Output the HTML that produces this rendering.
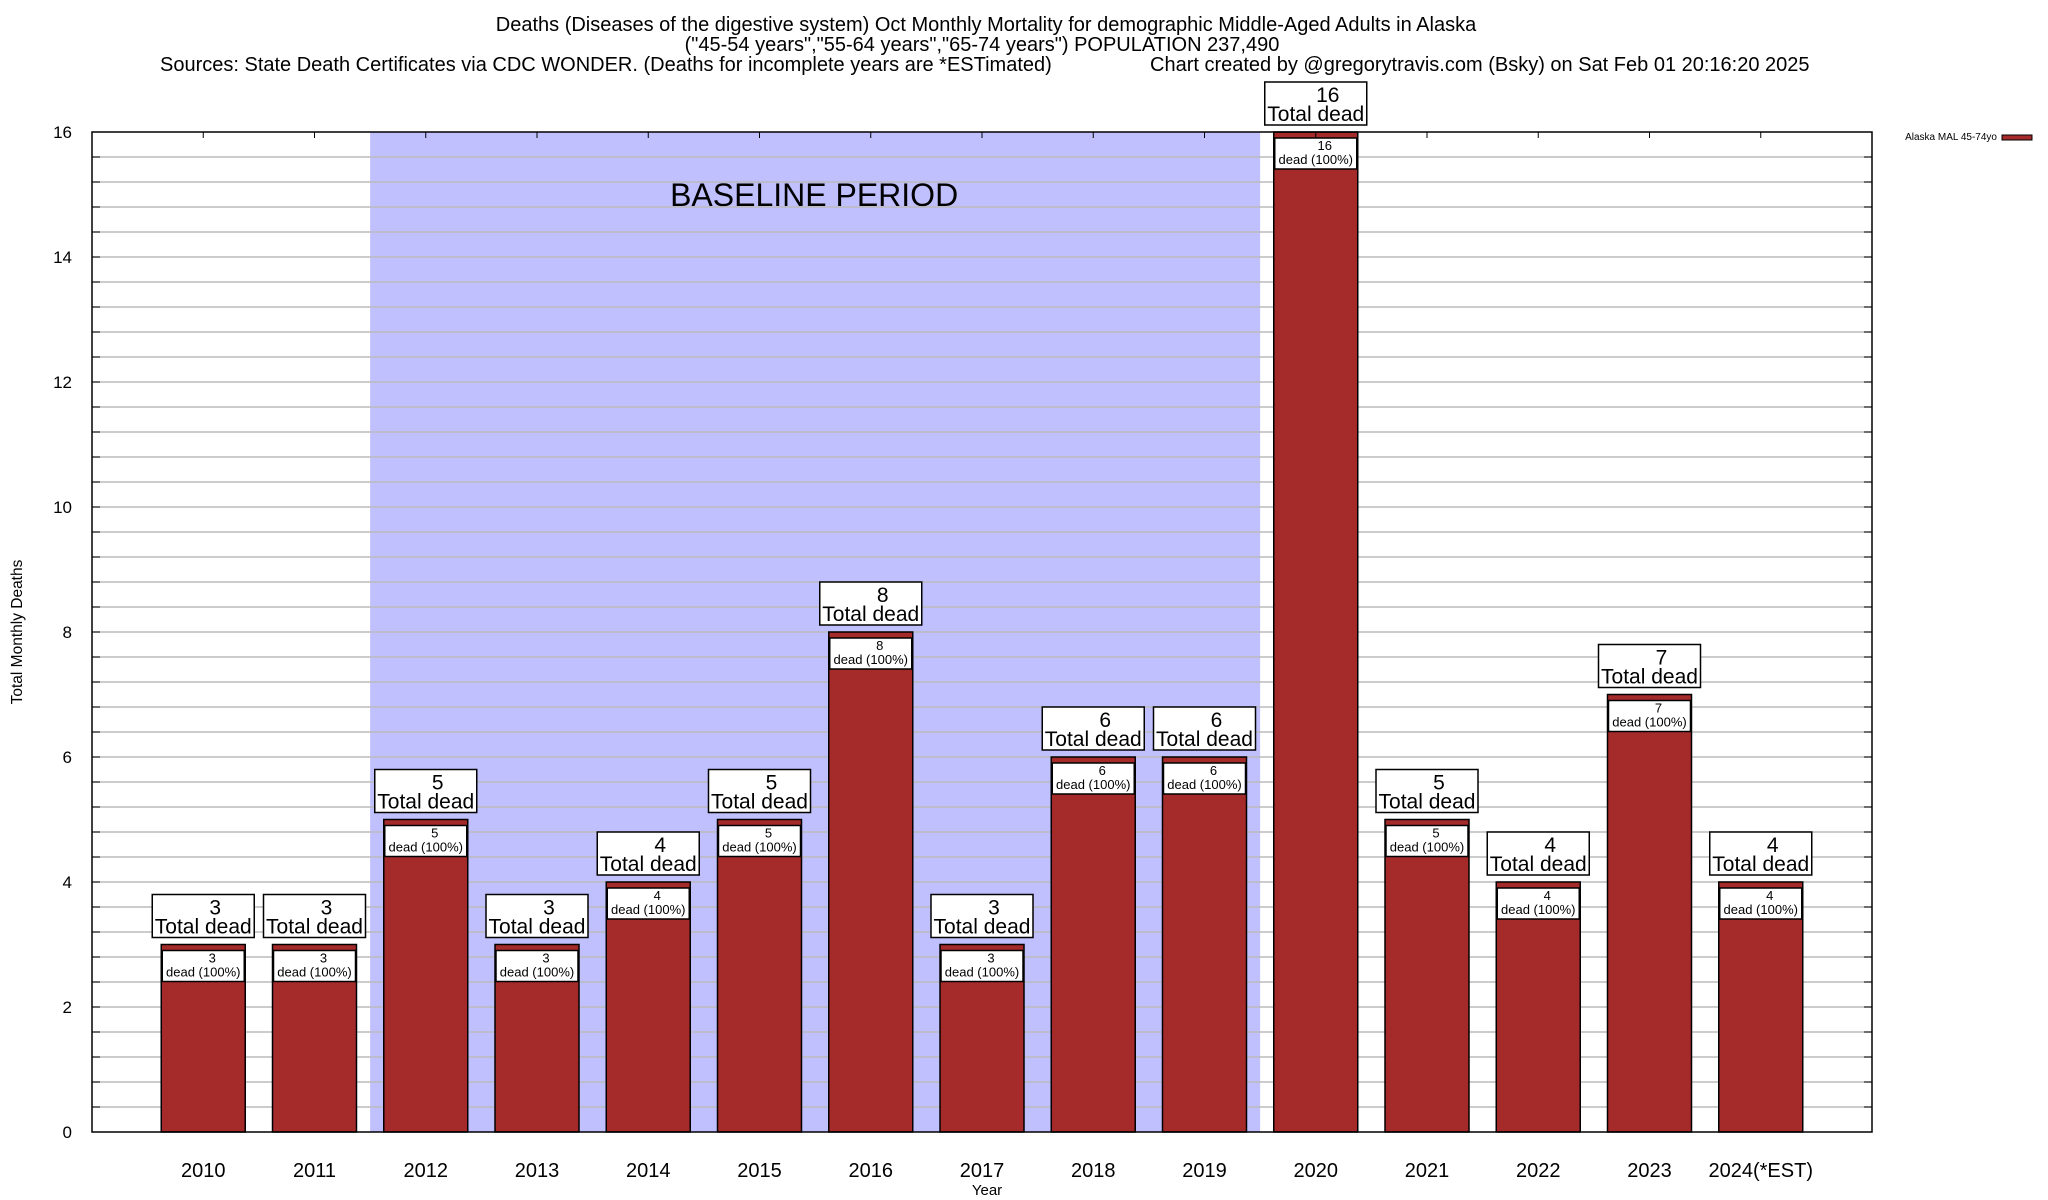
<!DOCTYPE html>
<html><head><meta charset="utf-8"><style>
html,body{margin:0;padding:0;background:#fff;width:2048px;height:1200px;overflow:hidden}
svg{display:block;font-family:"Liberation Sans",Arial,sans-serif}
</style></head><body>
<svg id="chart" width="2048" height="1200" xmlns="http://www.w3.org/2000/svg">
<g>
<text x="986" y="31" font-size="20" text-anchor="middle">Deaths (Diseases of the digestive system) Oct Monthly Mortality for demographic Middle-Aged Adults in Alaska</text>
<text x="982" y="51" font-size="20" text-anchor="middle">("45-54 years","55-64 years","65-74 years") POPULATION 237,490</text>
<text x="160" y="71" font-size="20">Sources: State Death Certificates via CDC WONDER. (Deaths for incomplete years are *ESTimated)</text>
<text x="1150" y="71" font-size="20">Chart created by @gregorytravis.com (Bsky) on Sat Feb 01 20:16:20 2025</text>
</g>
<g id="plot"></g>
<text x="22" y="632" font-size="15.5" text-anchor="middle" transform="rotate(-90 22 632)">Total Monthly Deaths</text>
<text x="987" y="1195" font-size="15" text-anchor="middle">Year</text>
<g>
<text x="1997" y="140" font-size="10" text-anchor="end">Alaska MAL 45-74yo</text>
<rect x="2002" y="135" width="30" height="5" fill="#a52a2a" stroke="#000" stroke-width="1"/>
</g>
</svg>
<script>
const categories = ["2010","2011","2012","2013","2014","2015","2016","2017","2018","2019","2020","2021","2022","2023","2024(*EST)"];
const values = [3,3,5,3,4,5,8,3,6,6,16,5,4,7,4];
const yTicks = [0,2,4,6,8,10,12,14,16];
const baselineRange = [1.5, 9.5];

const L=92,R=1872,T=132,B=1132,YMAX=16;
const NS="http://www.w3.org/2000/svg";
const g=document.getElementById('plot');
const xs=i=>L+(i+1)*(R-L)/16;
const ys=v=>B-v*(B-T)/YMAX;
const unit=(R-L)/16;
function mk(tag,attrs,parent){const e=document.createElementNS(NS,tag);for(const k in attrs)e.setAttribute(k,attrs[k]);(parent||g).appendChild(e);return e;}

let sh=mk('rect',{x:xs(baselineRange[0]),y:T,width:xs(baselineRange[1])-xs(baselineRange[0]),height:B-T,fill:'#c0c0ff'});


let bt=mk('text',{x:(xs(baselineRange[0])+xs(baselineRange[1]))/2-1,y:206,'font-size':32,'text-anchor':'middle'});
bt.textContent='BASELINE PERIOD';



for(let k=1;k<40;k++){
  const v=k*0.4;const y=ys(v);
  const ln=mk('line',{x1:L,x2:R,y1:y,y2:y,stroke:'#bbb','stroke-width':1.5});
  
  
  mk('line',{x1:R-8,x2:R,y1:y,y2:y,stroke:'#000','stroke-width':1});
  mk('line',{x1:L,x2:L+8,y1:y,y2:y,stroke:'#000','stroke-width':1});
}
yTicks.forEach(v=>{
  const t=mk('text',{x:L-20,y:ys(v)+6,'font-size':17,'text-anchor':'end'});
  t.textContent=v;
  
  
});

categories.forEach((c,i)=>{
  const cx=xs(i),w=unit*0.755,v=values[i],top=ys(v);
  const b=mk('rect',{x:cx-w/2,y:top,width:w,height:B-top,fill:'#a52a2a',stroke:'#000','stroke-width':1.5});
  
  
  const ib=mk('rect',{x:cx-41,y:top+6,width:82,height:31,fill:'#fff',stroke:'#000','stroke-width':1.5});
  
  
  const t1=mk('text',{x:cx+9,y:top+18,'font-size':13,'text-anchor':'middle'});t1.textContent=v;
  const t2=mk('text',{x:cx,y:top+32,'font-size':13,'text-anchor':'middle'});t2.textContent='dead (100%)';
  const ob=mk('rect',{x:cx-51,y:top-50,width:102,height:43,fill:'#fff',stroke:'#000','stroke-width':1.5});
  
  
  const o1=mk('text',{x:cx+12,y:top-30,'font-size':21,'text-anchor':'middle'});o1.textContent=v;
  const o2=mk('text',{x:cx,y:top-11,'font-size':21,'text-anchor':'middle'});o2.textContent='Total dead';
  const xl=mk('text',{x:cx,y:1177,'font-size':20,'text-anchor':'middle'});xl.textContent=c;
  
  
  mk('line',{x1:cx,x2:cx,y1:T,y2:T+6,stroke:'#000','stroke-width':1});
});
const fr=mk('rect',{x:L,y:T,width:R-L,height:B-T,fill:'none',stroke:'#000','stroke-width':1.5});


</script>
</body></html>
